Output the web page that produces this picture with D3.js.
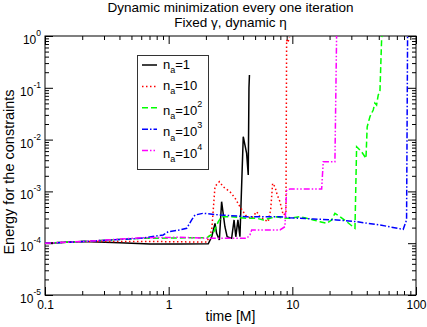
<!DOCTYPE html>
<html>
<head>
<meta charset="utf-8">
<script src="https://cdn.jsdelivr.net/npm/d3@7"></script>
<style>
  body { margin: 0; background: #fff; }
  svg { font-family: "Liberation Sans", Arial, Helvetica, sans-serif; }
</style>
</head>
<body>
<div id="chart"></div>
<script>
// tick labels
const xTickLabels = ["0.1", "1", "10", "100"];
const yExponents = [0, -1, -2, -3, -4, -5];

// legend labels: n_a = base^exp
const legendBase = ["1", "10", "10", "10", "10"];
const legendExp = ["", "", "2", "3", "4"];

// [time, energy]
const na1 = [
  [0.1, 1.0e-4], [0.203, 1.08e-4], [0.4, 1.02e-4], [0.706, 9.7e-5], [1.2, 9.6e-5],
  [2.09, 9.75e-5], [2.23, 1.33e-4], [2.37, 2.42e-4], [2.44, 1.55e-4], [2.57, 1.15e-4],
  [2.68, 6.33e-4], [2.85, 2.08e-4], [2.97, 1.33e-4], [3.23, 1.24e-4], [3.38, 2.81e-4],
  [3.49, 1.33e-4], [3.63, 2.81e-4], [3.77, 1.33e-4], [4.01, 1.14e-2], [4.27, 5.4e-3],
  [4.40, 2.07e-3], [4.46, 0.10], [4.50, 0.177]
];
const na10 = [
  [0.1, 1.0e-4], [0.203, 1.08e-4], [0.7, 1.08e-4], [2.04, 1.05e-4], [2.23, 1.8e-4],
  [2.37, 1.25e-3], [2.57, 1.54e-3], [2.76, 1.23e-3], [3.13, 9.87e-4], [3.44, 7.46e-4],
  [3.77, 5.07e-4], [4.01, 4.06e-4], [4.27, 3.25e-4], [4.69, 3.03e-4], [5.15, 4.06e-4],
  [5.47, 3.25e-4], [6.0, 2.81e-4], [6.38, 2.6e-4], [6.68, 4.38e-4], [6.93, 1.43e-3],
  [7.23, 1.23e-3], [7.55, 8.53e-4], [7.94, 6.33e-4], [8.44, 3.5e-4], [8.88, 3.78e-4],
  [8.99, 0.84], [9.2, 0.75], [9.5, 0.95]
];
const na100 = [
  [0.1, 1.0e-4], [0.203, 1.08e-4], [0.586, 1.24e-4], [2.04, 1.28e-4], [2.29, 1.55e-4],
  [2.52, 2.6e-4], [2.68, 3.25e-4], [3.13, 3.25e-4], [4.27, 3.03e-4], [5.15, 3.03e-4],
  [5.82, 2.81e-4], [6.59, 3.03e-4], [7.46, 3.25e-4], [8.44, 3.03e-4], [9.56, 3.03e-4],
  [11.5, 3.25e-4], [13.05, 3.03e-4], [14.76, 2.81e-4], [16.7, 2.6e-4], [18.9, 2.42e-4],
  [20.8, 2.81e-4], [22.1, 3.78e-4], [24.3, 3.25e-4], [27.5, 2.6e-4], [32.1, 1.94e-4],
  [33.1, 7.29e-3], [36.3, 5.83e-3], [39.4, 4.35e-3], [40.3, 1.77e-2], [42.4, 2.77e-2],
  [45.1, 3.73e-2], [46.5, 5.09e-2], [48.0, 4.66e-2], [49.5, 7.26e-2], [51.1, 8.41e-2],
  [52.7, 0.84], [53.0, 1.0]
];
const na1000 = [
  [0.1, 1.0e-4], [0.203, 1.08e-4], [0.586, 1.24e-4], [0.904, 1.44e-4], [0.993, 1.67e-4],
  [1.234, 1.8e-4], [1.398, 1.94e-4], [1.535, 2.81e-4], [1.632, 3.5e-4], [1.905, 3.78e-4],
  [2.6, 3.5e-4], [4.27, 3.25e-4], [7.94, 3.25e-4], [9.56, 3.11e-4], [14.76, 2.93e-4],
  [22.8, 2.81e-4], [33.1, 2.6e-4], [51.1, 2.25e-4], [78.8, 1.85e-4], [83.9, 2.81e-4],
  [85.5, 1.0]
];
const na10000 = [
  [0.1, 1.0e-4], [0.203, 1.08e-4], [0.586, 1.27e-4], [1.234, 1.30e-4], [2.16, 1.24e-4],
  [4.27, 1.24e-4], [4.54, 1.44e-4], [4.69, 1.8e-4], [6.59, 1.8e-4], [7.94, 1.8e-4],
  [8.71, 2.08e-4], [8.99, 1.06e-3], [9.56, 1.11e-3], [17.26, 1.11e-3], [17.78, 3.74e-3],
  [22.1, 3.74e-3], [22.8, 1.0]
];

const series = [
  { data: na1, color: "#000000", dash: null },
  { data: na10, color: "#ff0000", dash: "1.5,2.5" },
  { data: na100, color: "#00ff00", dash: "6,3" },
  { data: na1000, color: "#0000ff", dash: "6,2,1.5,2" },
  { data: na10000, color: "#ff00ff", dash: "6,2,1.5,2,1.5,2" }
];

const W = 427, H = 327;
const margin = { top: 36, right: 11, bottom: 32, left: 45 };
const width = W - margin.left - margin.right;
const height = H - margin.top - margin.bottom;

const svg = d3.select("#chart")
  .append("svg")
  .attr("width", W)
  .attr("height", H);

const g = svg.append("g")
  .attr("transform", `translate(${margin.left},${margin.top})`);

const x = d3.scaleLog().domain([0.1, 100]).range([0, width]);
const y = d3.scaleLog().domain([1e-5, 1]).range([height, 0]);

const isMajor = v => Math.abs(Math.log10(v) - Math.round(Math.log10(v))) < 1e-6;
const xMinor = x.ticks().filter(v => !isMajor(v));
const xMajor = x.ticks().filter(isMajor);
const yMinor = y.ticks().filter(v => !isMajor(v));
const yMajor = y.ticks().filter(isMajor);

// helper: draw one tick set, strip the domain line
function ticks(axis, transform) {
  const a = g.append("g").attr("transform", transform || null).call(axis);
  a.select(".domain").remove();
  a.selectAll("line").attr("stroke", "#000");
  return a;
}

ticks(d3.axisBottom(x).tickValues(xMinor).tickSize(-4).tickFormat(""), `translate(0,${height})`);
const xLab = ticks(d3.axisBottom(x).tickValues(xMajor).tickSize(-8).tickPadding(5)
  .tickFormat((d, i) => xTickLabels[i]), `translate(0,${height})`);
xLab.attr("font-family", null).attr("font-size", 12);
xLab.selectAll("text").attr("fill", "#000");

ticks(d3.axisTop(x).tickValues(xMinor).tickSize(-4).tickFormat(""));
ticks(d3.axisTop(x).tickValues(xMajor).tickSize(-8).tickFormat(""));
ticks(d3.axisLeft(y).tickValues(yMinor).tickSize(-4).tickFormat(""));
ticks(d3.axisLeft(y).tickValues(yMajor).tickSize(-8).tickFormat(""));
ticks(d3.axisRight(y).tickValues(yMinor).tickSize(-4).tickFormat(""), `translate(${width},0)`);
ticks(d3.axisRight(y).tickValues(yMajor).tickSize(-8).tickFormat(""), `translate(${width},0)`);

// y labels as 10^n
const yl = g.append("g").attr("font-size", 12).attr("text-anchor", "end");
yExponents.forEach(e => {
  const t = yl.append("text")
    .attr("x", -4)
    .attr("y", y(Math.pow(10, e)) + 8);
  t.append("tspan").text("10");
  t.append("tspan").attr("font-size", 8.5).attr("dy", -8).text(e);
});

// frame
g.append("rect")
  .attr("width", width).attr("height", height)
  .attr("fill", "none").attr("stroke", "#000").attr("stroke-width", 1);

g.append("clipPath").attr("id", "clip")
  .append("rect").attr("width", width).attr("height", height);

const line = d3.line().x(d => x(d[0])).y(d => y(d[1]));

const lines = g.append("g").attr("clip-path", "url(#clip)");
series.forEach(s => {
  lines.append("path")
    .datum(s.data)
    .attr("d", line)
    .attr("fill", "none")
    .attr("stroke", s.color)
    .attr("stroke-width", 1.5)
    .attr("stroke-dasharray", s.dash);
});

// legend
const lg = svg.append("g");
lg.append("rect")
  .attr("x", 137.5).attr("y", 55.5).attr("width", 71).attr("height", 114)
  .attr("fill", "#fff").attr("stroke", "#333");
series.forEach((s, i) => {
  const ly = 65 + i * 21.4;
  lg.append("line")
    .attr("x1", 142).attr("x2", 157).attr("y1", ly).attr("y2", ly)
    .attr("stroke", s.color).attr("stroke-width", 1.5)
    .attr("stroke-dasharray", s.dash);
  const t = lg.append("text")
    .attr("x", 163)
    .attr("y", ly + (legendExp[i] ? 7 : 3.5))
    .attr("font-size", 13);
  t.append("tspan").text("n");
  t.append("tspan").attr("font-size", 9).attr("dy", 4.5).text("a");
  t.append("tspan").attr("dy", -4.5).text("=" + legendBase[i]);
  if (legendExp[i]) t.append("tspan").attr("font-size", 9).attr("dy", -8).text(legendExp[i]);
});

// titles
svg.append("text")
  .attr("x", margin.left + width / 2).attr("y", 12)
  .attr("text-anchor", "middle").attr("font-size", 13.5)
  .text("Dynamic minimization every one iteration");
svg.append("text")
  .attr("x", margin.left + width / 2).attr("y", 27)
  .attr("text-anchor", "middle").attr("font-size", 13.5)
  .text("Fixed \u03b3, dynamic \u03b7");

svg.append("text")
  .attr("x", margin.left + width / 2).attr("y", 321)
  .attr("text-anchor", "middle").attr("font-size", 14)
  .text("time [M]");

svg.append("text")
  .attr("transform", "translate(14,172) rotate(-90)")
  .attr("text-anchor", "middle").attr("font-size", 14.5)
  .text("Energy for the constraints");
</script>
</body>
</html>
